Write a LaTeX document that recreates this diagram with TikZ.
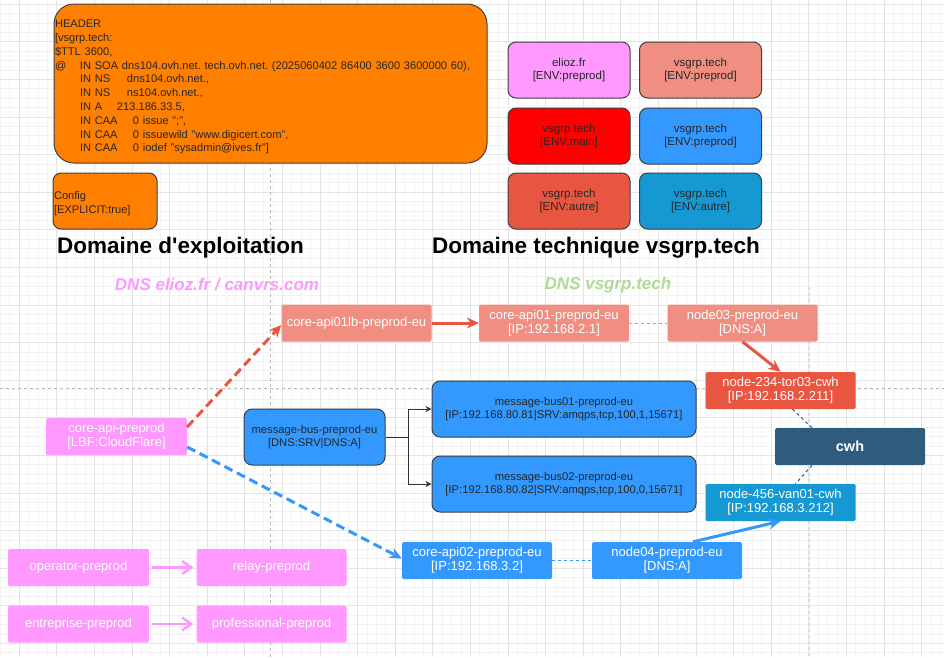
\documentclass[tikz,border=0pt]{standalone}
\usepackage{fontspec}
\setmainfont{Liberation Sans}
\usepackage[x11names]{xcolor}
\usepackage{tikz}
\usetikzlibrary{calc}
\usetikzlibrary{arrows.meta}

\definecolor{OrangeHdr}{HTML}{FF8000}
\definecolor{PinkEnv}{HTML}{FF99FF}
\definecolor{SalmonEnv}{HTML}{F08E81}
\definecolor{RedMain}{HTML}{FF0000}
\definecolor{BlueEnv}{HTML}{3399FF}
\definecolor{RedAlt}{HTML}{E85642}
\definecolor{BlueAlt}{HTML}{1699D3}
\definecolor{CwhDark}{HTML}{2F5B7C}
\definecolor{GreenDns}{HTML}{B0DA98}
\definecolor{GridMinor}{HTML}{F3F3F3}
\definecolor{GridMajor}{HTML}{E4E4E4}

\tikzset{
    host/.style = {rectangle, rounded corners = 1.5pt, minimum width = 150pt, minimum height = 37pt, inner sep = 0pt, align = center, text = white, font = \fontsize{13}{14}\selectfont},
    envbox/.style = {rectangle, draw = black!75, line width = 1pt, rounded corners = 8pt, minimum width = 122pt, minimum height = 56pt, inner sep = 0pt, align = center, text = black!85, font = \fontsize{11.5}{13.5}\selectfont},
    busbox/.style = {envbox, fill = BlueEnv, font = \fontsize{11.2}{13.5}\selectfont},
    zonebox/.style = {rectangle, draw = black!75, line width = 1pt, fill = OrangeHdr, inner sep = 1pt, align = left, text = black!85, font = \fontsize{11.1}{13.8}\selectfont},
    headline/.style = {anchor = west, inner sep = 0pt, font = \fontsize{22.5}{26}\selectfont\bfseries},
    dnslabel/.style = {inner sep = 0pt, font = \fontsize{17}{20}\selectfont\bfseries\itshape},
    flow/.style = {line width = 3pt, -{Stealth[length = 12pt, width = 11pt]}},
    dnslink/.style = {line width = 1pt, dash pattern = on 3pt off 3pt},
}

\begin{document}
\frenchspacing
\begin{tikzpicture}[x = 1pt, y = -1pt]
    \useasboundingbox (0, 0) rectangle (944, 657);
    \fill [white] (0, 0) rectangle (944, 657);
    % grid and guides
    \foreach \x in {0.4, 9.8, ..., 944} {
        \draw [GridMinor, line width = 0.7pt] (\x, 0) -- (\x, 657);
    }
    \foreach \y in {4.1, 13.5, ..., 657} {
        \draw [GridMinor, line width = 0.7pt] (0, \y) -- (944, \y);
    }
    \foreach \x in {19.2, 56.8, ..., 944} {
        \draw [GridMajor, line width = 0.8pt] (\x, 0) -- (\x, 657);
    }
    \foreach \y in {4.1, 41.7, ..., 657} {
        \draw [GridMajor, line width = 0.8pt] (0, \y) -- (944, \y);
    }
    \draw [gray!55, dash pattern = on 3pt off 3pt] (0, 388) -- (944, 388);
    \draw [gray!55, dash pattern = on 3pt off 3pt] (270, 0) -- (270, 657);
    \draw [GreenDns!80, dash pattern = on 3pt off 3pt] (809, 287) -- (809, 657);

    % zone file
    \node (zone) [zonebox, rounded corners = 20pt, minimum width = 433pt, minimum height = 159pt, text width = 431pt] at (270.5, 83.5) {\rule{0pt}{15pt}HEADER\\
        {[vsgrp.tech:}\\
        \$TTL 3600,\\
        \makebox[25pt][l]{@}IN SOA dns104.ovh.net. tech.ovh.net. (2025060402 86400 3600 3600000 60),\\
        \hspace*{25pt}\makebox[47pt][l]{IN NS}dns104.ovh.net.,\\
        \hspace*{25pt}\makebox[47pt][l]{IN NS}ns104.ovh.net.,\\
        \hspace*{25pt}\makebox[37pt][l]{IN A}213.186.33.5,\\
        \hspace*{25pt}\makebox[53pt][l]{IN CAA}0 issue ";",\\
        \hspace*{25pt}\makebox[53pt][l]{IN CAA}0 issuewild "www.digicert.com",\\
        \hspace*{25pt}\makebox[53pt][l]{IN CAA}0 iodef "sysadmin@ives.fr"]};
    \node (config) [zonebox, rounded corners = 8pt, minimum height = 56pt, text width = 102pt] at (105, 201) {\rule{0pt}{14pt}Config\\{[EXPLICIT:true]}};

    \node (exploit) [headline] at (57, 248) {Domaine d\textquotesingle exploitation};
    \node (technique) [headline] at (432, 248) {Domaine technique vsgrp.tech};

    % legend
    \foreach \n/\x/\y/\c/\h/\e in {elioz/569/70/PinkEnv/elioz.fr/preprod, vspre/700.5/70/SalmonEnv/vsgrp.tech/preprod, vsmain/569/136/RedMain/vsgrp.tech/main, vsblue/700.5/136/BlueEnv/vsgrp.tech/preprod, vsred/569/201/RedAlt/vsgrp.tech/autre, vscyan/700.5/201/BlueAlt/vsgrp.tech/autre} {
        \node (\n) [envbox, fill = \c] at (\x, \y) {\h\\{[ENV:\e]}};
    }

    \node (dnselioz) [dnslabel, text = PinkEnv] at (217, 285) {DNS elioz.fr / canvrs.com};
    \node (dnsvsgrp) [dnslabel, text = GreenDns] at (608, 285) {DNS vsgrp.tech};

    % hosts
    \node (lb) [host, fill = SalmonEnv] at (356.5, 323) {core-api01lb-preprod-eu};
    \node (api01) [host, fill = SalmonEnv] at (554, 323) {core-api01-preprod-eu\\{[IP:192.168.2.1]}};
    \node (node03) [host, fill = SalmonEnv] at (742.5, 323) {node03-preprod-eu\\{[DNS:A]}};
    \node (tor03) [host, fill = RedAlt] at (780.5, 390.5) {node-234-tor03-cwh\\{[IP:192.168.2.211]}};
    \node (cwh) [host, fill = CwhDark, font = \fontsize{14.5}{17}\selectfont\bfseries] at (850, 446.5) {cwh};
    \node (van01) [host, fill = BlueAlt] at (780.5, 502.5) {node-456-van01-cwh\\{[IP:192.168.3.212]}};
    \node (coreapi) [host, fill = PinkEnv, minimum width = 141pt] at (116.5, 436.5) {core-api-preprod\\{[LBF:CloudFlare]}};
    \node (mbus) [busbox, minimum width = 141pt] at (314.5, 437) {message-bus-preprod-eu\\{[DNS:SRV|DNS:A]}};
    \node (mbus01) [busbox, minimum width = 264pt] at (564, 409) {message-bus01-preprod-eu\\{[IP:192.168.80.81|SRV:amqps,tcp,100,1,15671]}};
    \node (mbus02) [busbox, minimum width = 264pt] at (564, 484) {message-bus02-preprod-eu\\{[IP:192.168.80.82|SRV:amqps,tcp,100,0,15671]}};
    \node (api02) [host, fill = BlueEnv] at (477, 560.5) {core-api02-preprod-eu\\{[IP:192.168.3.2]}};
    \node (node04) [host, fill = BlueEnv] at (667, 560.5) {node04-preprod-eu\\{[DNS:A]}};

    % links
    \draw [RedAlt, flow, dash pattern = on 9pt off 5pt] ([yshift = 9.5pt]coreapi.east) -- ([yshift = -2pt]lb.west);
    \draw [BlueEnv, flow, dash pattern = on 9pt off 5pt] ([yshift = -10.5pt]coreapi.east) -- ([yshift = 2pt]api02.west);
    \draw [RedAlt, flow] (lb) -- (api01);
    \draw [SalmonEnv, dnslink] (api01) -- (node03);
    \draw [RedAlt, flow] (node03.south) -- (tor03.north);
    \draw [CwhDark, dnslink] ([xshift = 12pt]tor03.south) -- ([xshift = -38pt]cwh.north);
    \draw [CwhDark, dnslink] ([xshift = -38pt]cwh.south) -- ([xshift = 15pt]van01.north);
    \draw [BlueEnv, dnslink] (api02) -- (node04);
    \draw [BlueEnv, flow] ([xshift = 26pt]node04.north) -- (van01.south);
    \foreach \j in {mbus01, mbus02} {
        \draw [black!80, line width = 1pt, -{Stealth[length = 6pt, width = 6pt]}] (mbus.east) -- ++(23, 0) |- (\j.west);
    }

    % preprod pairs
    \foreach \a\b\t\u\y in {operator/relay/operator-preprod/relay-preprod/567.5, entreprise/professional/entreprise-preprod/professional-preprod/624} {
        \node (\a) [host, fill = PinkEnv, minimum width = 141pt] at (78.5, \y) {\t};
        \node (\b) [host, fill = PinkEnv] at (271.5, \y) {\u};
        \draw [PinkEnv, line width = 2.5pt, -{Straight Barb[length = 9pt, width = 13pt]}] ([xshift = 3pt]\a.east) -- ([xshift = -3pt]\b.west);
    }
\end{tikzpicture}
\end{document}
